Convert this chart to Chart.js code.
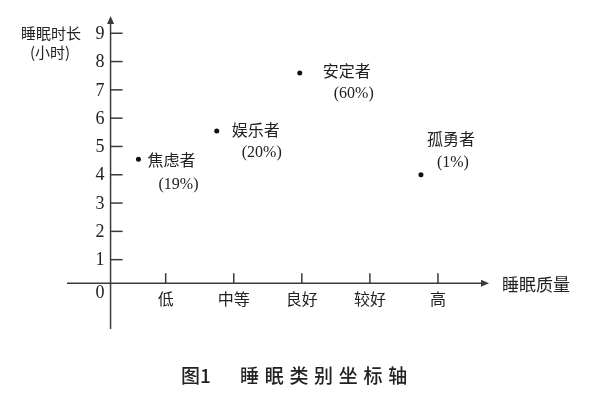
<!DOCTYPE html>
<html>
<head>
<meta charset="utf-8">
<script src="https://cdn.jsdelivr.net/npm/chart.js@4"></script>
<style>
  html, body { margin: 0; padding: 0; background: #fff; }
  #wrap { width: 600px; height: 395px; }
</style>
</head>
<body>
<div id="wrap"><canvas id="chart" width="600" height="395"></canvas></div>
<script>
// categories and tick labels
const qualityCategories = ['低', '中等', '良好', '较好', '高'];
const hourTicks = [1, 2, 3, 4, 5, 6, 7, 8, 9];

// sleep groups
const groupNames = ['焦虑者', '娱乐者', '安定者', '孤勇者'];
const groupShares = ['(19%)', '(20%)', '(60%)', '(1%)'];
const groupQuality = [0.6, 1.75, 2.97, 4.75];
const groupHours = [4.55, 5.55, 7.6, 4.0];

// where the two axes cross, in data units
const crossX = 0.19;
const crossY = 0.17;

// label placement per group: [dx name, dy name, dx share, dy share] in px from the point
const labelOffsets = [
  [9, 1, 40, 26],
  [15, -1, 45, 22],
  [23, -2, 54, 21],
  [6, -36, 32, -12]
];

const ink = '#222';
const lineColor = '#3a3a3a';
const cjk = '"Noto Sans CJK SC", "Noto Sans CJK JP", sans-serif';
const serif = '"Liberation Serif", "DejaVu Serif", serif';

const axesPlugin = {
  id: 'axesPlugin',
  beforeDatasetsDraw(chart) {
    const ctx = chart.ctx;
    const xs = chart.scales.x, ys = chart.scales.y;
    const area = chart.chartArea;
    const ox = xs.getPixelForValue(crossX);
    const oy = ys.getPixelForValue(crossY);

    ctx.save();
    ctx.strokeStyle = lineColor;
    ctx.fillStyle = lineColor;
    ctx.lineWidth = 1.5;

    // y axis
    ctx.beginPath();
    ctx.moveTo(ox, area.bottom);
    ctx.lineTo(ox, area.top + 6);
    ctx.stroke();
    ctx.beginPath();
    ctx.moveTo(ox, area.top);
    ctx.lineTo(ox - 3.5, area.top + 8);
    ctx.lineTo(ox + 3.5, area.top + 8);
    ctx.closePath();
    ctx.fill();

    // x axis
    ctx.beginPath();
    ctx.moveTo(area.left, oy);
    ctx.lineTo(area.right - 6, oy);
    ctx.stroke();
    ctx.beginPath();
    ctx.moveTo(area.right, oy);
    ctx.lineTo(area.right - 8, oy - 3.5);
    ctx.lineTo(area.right - 8, oy + 3.5);
    ctx.closePath();
    ctx.fill();

    // y ticks and labels
    ctx.fillStyle = ink;
    ctx.font = '18px ' + serif;
    ctx.textAlign = 'right';
    ctx.textBaseline = 'middle';
    hourTicks.forEach(v => {
      const py = ys.getPixelForValue(v);
      ctx.beginPath();
      ctx.moveTo(ox, py);
      ctx.lineTo(ox + 12, py);
      ctx.stroke();
      ctx.fillText(String(v), ox - 6, py + 1);
    });
    ctx.fillText('0', ox - 6, oy + 10);

    // x ticks and labels
    ctx.font = '16px ' + cjk;
    ctx.textAlign = 'center';
    qualityCategories.forEach((c, i) => {
      const px = xs.getPixelForValue(i + 1);
      ctx.beginPath();
      ctx.moveTo(px, oy);
      ctx.lineTo(px, oy - 10);
      ctx.stroke();
      ctx.fillText(c, px, oy + 16);
    });

    // axis titles
    ctx.font = '17px ' + cjk;
    ctx.textAlign = 'left';
    ctx.fillText('睡眠质量', area.right + 13, oy + 1);
    ctx.textAlign = 'center';
    ctx.font = '15px ' + cjk;
    ctx.fillText('睡眠时长', 51, 33);
    ctx.fillText('(小时)', 50, 52);

    // caption
    ctx.font = '500 19px ' + cjk;
    ctx.textAlign = 'left';
    ctx.fillText('图1', 181, 376);
    const cap = '睡眠类别坐标轴';
    for (let i = 0; i < cap.length; i++) {
      ctx.fillText(cap[i], 240 + i * 24.7, 376);
    }
    ctx.restore();
  },
  afterDatasetsDraw(chart) {
    const ctx = chart.ctx;
    const meta = chart.getDatasetMeta(0);
    ctx.save();
    ctx.fillStyle = ink;
    ctx.textBaseline = 'middle';
    meta.data.forEach((pt, i) => {
      const o = labelOffsets[i];
      ctx.textAlign = 'left';
      ctx.font = '16px ' + cjk;
      ctx.fillText(groupNames[i], pt.x + o[0], pt.y + o[1]);
      ctx.textAlign = 'center';
      ctx.font = '16px ' + serif;
      ctx.fillText(groupShares[i], pt.x + o[2], pt.y + o[3]);
    });
    ctx.restore();
  }
};

new Chart(document.getElementById('chart'), {
  type: 'scatter',
  data: {
    datasets: [{
      data: groupQuality.map((q, i) => ({ x: q, y: groupHours[i] })),
      pointRadius: 2.5,
      pointBackgroundColor: '#111',
      pointBorderWidth: 0
    }]
  },
  options: {
    responsive: false,
    animation: false,
    layout: { padding: { left: 67, right: 111, top: 16, bottom: 66 } },
    scales: {
      x: { type: 'linear', min: -0.45, max: 5.75, display: false },
      y: { type: 'linear', min: -1.45, max: 9.61, display: false }
    },
    plugins: { legend: { display: false }, tooltip: { enabled: false } }
  },
  plugins: [axesPlugin]
});
</script>
</body>
</html>
